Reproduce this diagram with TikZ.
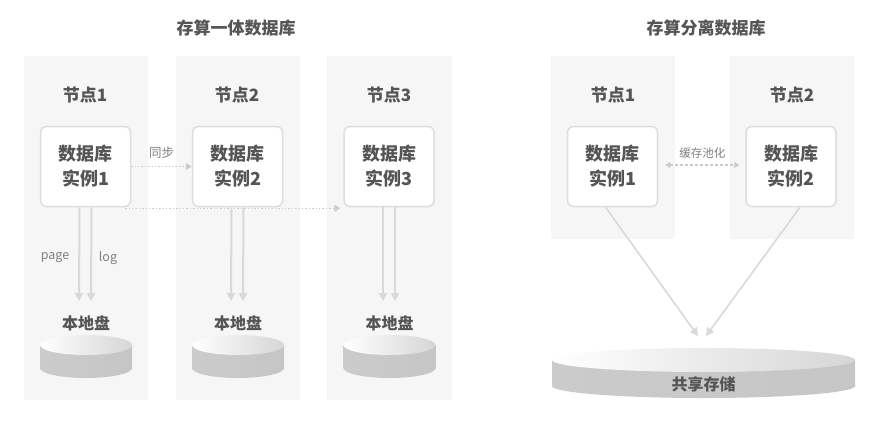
\documentclass[tikz,border=0pt]{standalone}
\usepackage{fontspec}
\setmainfont{Noto Sans CJK SC}
\usetikzlibrary{arrows.meta}
\definecolor{panel}{HTML}{F6F6F6}
\definecolor{txt}{HTML}{555555}
\definecolor{lbl}{HTML}{7F7F7F}
\definecolor{ln}{HTML}{D9D9D9}
\definecolor{bd}{HTML}{DDDDDD}
\definecolor{dotc}{HTML}{CCCCCC}
\definecolor{sideA}{HTML}{CBCBCB}
\definecolor{sideB}{HTML}{F2F2F2}
\definecolor{sideC}{HTML}{C6C6C6}
\definecolor{topB}{HTML}{D6D6D6}
\begin{document}
\begin{tikzpicture}[x=1pt,y=-1pt,
  panelbox/.style={fill=panel,draw=none},
  dbbox/.style={draw=bd,line width=1.5pt,fill=white,rounded corners=6pt,
    minimum width=90pt,minimum height=80pt,inner sep=0pt,align=center,
    font=\fontsize{18}{25}\selectfont\bfseries,text=txt},
  nodelabel/.style={font=\fontsize{17}{20}\selectfont\bfseries,text=txt,inner sep=0pt},
  titlelabel/.style={font=\fontsize{17}{20}\selectfont\bfseries,text=txt,inner sep=0pt},
  disklabel/.style={font=\fontsize{16}{18}\selectfont\bfseries,text=txt,inner sep=0pt},
  smalllabel/.style={font=\fontsize{12.5}{14}\selectfont,text=lbl,inner sep=0pt},
  tinylabel/.style={font=\fontsize{11.5}{13}\selectfont,text=lbl,inner sep=0pt},
  downarrow/.style={draw=ln,line width=2pt,-{Triangle[length=8pt,width=8pt]}},
  diagarrow/.style={draw=ln,line width=1.6pt,-{Triangle[length=8pt,width=8pt]}},
  syncarrow/.style={draw=dotc,line width=1.4pt,dotted,-{Triangle[length=6pt,width=7pt]}},
  poolarrow/.style={draw=dotc,line width=1.2pt,dashed,dash pattern=on 3pt off 2pt,
    {Triangle[length=5pt,width=6pt]}-{Triangle[length=5pt,width=6pt]}},
  sideshade/.style={left color=sideA,middle color=sideB,right color=sideC,draw=none},
  topshade/.style={left color=white,right color=topB,draw=none}
]
\useasboundingbox (0,0) rectangle (886,421);
\fill[white] (0,0) rectangle (886,421);

% titles
\node[titlelabel] (t1) at (236,28) {存算一体数据库};
\node[titlelabel] (t2) at (706,28) {存算分离数据库};

% panels
\fill[panelbox] (24,56) rectangle (148,400);
\fill[panelbox] (176,56) rectangle (300,400);
\fill[panelbox] (327,56) rectangle (452,400);
\fill[panelbox] (551,56) rectangle (675,239);
\fill[panelbox] (730,56) rectangle (854,239);

% node labels
\node[nodelabel] (n1) at (85,95) {节点1};
\node[nodelabel] (n2) at (237,95) {节点2};
\node[nodelabel] (n3) at (389,95) {节点3};
\node[nodelabel] (m1) at (613,95) {节点1};
\node[nodelabel] (m2) at (792,95) {节点2};

% database boxes
\node[dbbox] (b1) at (85.5,166.5) {数据库\\实例1};
\node[dbbox] (b2) at (237.5,166.5) {数据库\\实例2};
\node[dbbox] (b3) at (389,166.5) {数据库\\实例3};
\node[dbbox] (c1) at (612.5,166.5) {数据库\\实例1};
\node[dbbox] (c2) at (791,166.5) {数据库\\实例2};

% sync arrows
\draw[syncarrow] (b1.east) -- (b2.west) node[midway,above=7pt,smalllabel] (sy) {同步};
\draw[syncarrow] ([xshift=-6pt,yshift=-1pt]b1.south east) -- ([xshift=-3pt,yshift=-1pt]b3.south west);

% down arrow end points
\coordinate (e1a) at (79,301);  \coordinate (e1b) at (91,301);
\coordinate (e2a) at (231,301); \coordinate (e2b) at (243,301);
\coordinate (e3a) at (383,301); \coordinate (e3b) at (395,301);
\draw[downarrow] ([xshift=-6pt]b1.south) -- (e1a);
\draw[downarrow] ([xshift=6pt]b1.south) -- (e1b);
\draw[downarrow] ([xshift=-6pt]b2.south) -- (e2a);
\draw[downarrow] ([xshift=6pt]b2.south) -- (e2b);
\draw[downarrow] ([xshift=-6pt]b3.south) -- (e3a);
\draw[downarrow] ([xshift=6pt]b3.south) -- (e3b);
\node[smalllabel] (pg) at (55,258) {page};
\node[smalllabel] (lg) at (108,258) {log};

% local disk labels
\node[disklabel] (d1) at (86,323) {本地盘};
\node[disklabel] (d2) at (238,323) {本地盘};
\node[disklabel] (d3) at (389.5,323) {本地盘};

% local disks
\foreach \cx in {86,238,389.5}{
  \shade[sideshade] (\cx-46,345) rectangle (\cx+46,368);
  \shade[sideshade] (\cx,368) ellipse [x radius=46,y radius=10];
  \shade[topshade] (\cx,345) ellipse [x radius=46,y radius=10];
}

% pooling arrow
\draw[poolarrow] ([xshift=7pt,yshift=1.5pt]c1.east) -- ([xshift=-6pt,yshift=1.5pt]c2.west)
  node[midway,above=6pt,tinylabel] (pl) {缓存池化};

% diagonal arrows
\coordinate (s1) at (698,336);
\coordinate (s2) at (706,336);
\draw[diagarrow] ([xshift=-7pt]c1.south) -- (s1);
\draw[diagarrow] ([xshift=9pt]c2.south) -- (s2);

% shared storage
\shade[sideshade] (552,360) rectangle (855,386);
\shade[sideshade] (703.5,386) ellipse [x radius=151.5,y radius=12];
\shade[topshade] (703.5,360) ellipse [x radius=151.5,y radius=12];
\node[disklabel] (ss) at (703.5,384) {共享存储};
\end{tikzpicture}
\end{document}
